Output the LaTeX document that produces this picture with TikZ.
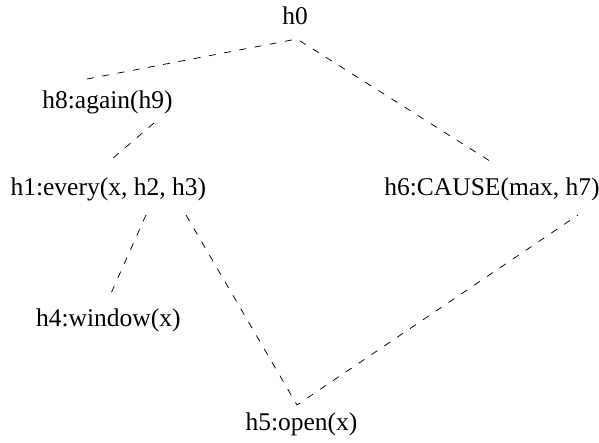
\documentclass[tikz,border=0pt]{standalone}
\usepackage{fontspec}
\setmainfont{Liberation Serif}
\usetikzlibrary{calc}
\tikzset{
  lbl/.style={anchor=base, inner sep=0pt, font=\fontsize{25.5}{30}\selectfont},
  edge/.style={draw=black, line width=0.75pt, dash pattern=on 7pt off 8.5pt},
}
\begin{document}
\begin{tikzpicture}[x=1pt,y=-1pt]
\useasboundingbox (0,0) rectangle (599,442);
% nodes
\node[lbl] (h0) at (295,24) {h0};
\node[lbl] (h8) at (107.5,108) {h8:again(h9)};
\node[lbl] (h1) at (108.3,195) {h1:every(x, h2, h3)};
\node[lbl] (h6) at (492,195) {h6:CAUSE(max, h7)};
\node[lbl] (h4) at (108.3,326.7) {h4:window(x)};
\node[lbl] (h5) at (301.5,430) {h5:open(x)};
% connector end points, relative to the nodes
\coordinate (h0b) at ($(h0.base)+(2,15)$);
\coordinate (h8t) at ($(h8.base)+(-20.5,-29)$);
\coordinate (h8b) at ($(h8.base)+(46.5,15)$);
\coordinate (h1t) at ($(h1.base)+(3.7,-36)$);
\coordinate (h1l) at ($(h1.base)+(37.7,20)$);
\coordinate (h1r) at ($(h1.base)+(77.7,20)$);
\coordinate (h6t) at ($(h6.base)+(1,-32)$);
\coordinate (h6b) at ($(h6.base)+(86,20)$);
\coordinate (h4t) at ($(h4.base)+(2.4,-32.7)$);
\coordinate (h5t) at ($(h5.base)+(-4.5,-25)$);
% connectors
\draw[edge] (h8t) -- (h0b) -- (h6t);
\draw[edge] (h8b) -- (h1t);
\draw[edge] (h1l) -- (h4t);
\draw[edge] (h1r) -- (h5t) -- (h6b);
\end{tikzpicture}
\end{document}
